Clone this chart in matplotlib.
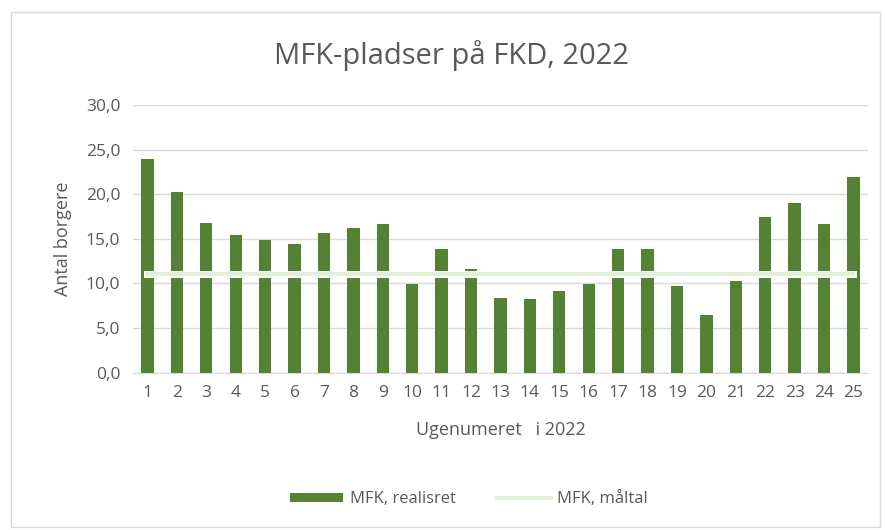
import matplotlib.pyplot as plt
from matplotlib.patches import Rectangle
import matplotlib.patheffects as pe

plt.rcParams['font.family'] = ['Open Sans', 'DejaVu Sans']

uger = [str(i) for i in range(1, 26)]
realiseret = [23.9, 20.2, 16.8, 15.4, 14.9, 14.4, 15.6, 16.2, 16.6, 9.9,
              13.9, 11.6, 8.4, 8.2, 9.1, 9.9, 13.9, 13.9, 9.7, 6.4,
              10.3, 17.4, 19.0, 16.6, 21.9]
maaltal = [11.0] * 25

grey = '#595959'
fig = plt.figure(figsize=(8.85, 5.3), dpi=100)
ax = fig.add_axes([0.150, 0.297, 0.831, 0.505])

x = range(len(uger))
bars = ax.bar(x, realiseret, width=0.42, color='#548235', label='MFK, realisret', zorder=2)
line, = ax.plot(x, maaltal, color='#E2EFDA', lw=3, label='MFK, måltal', zorder=3,
                path_effects=[pe.Stroke(linewidth=5, foreground='white'), pe.Normal()])

ax.set_ylim(0, 30)
ax.set_xlim(-0.5, len(uger) - 0.5)
ax.set_yticks(range(0, 31, 5))
ax.set_yticklabels([f'{v},0' for v in range(0, 31, 5)])
ax.set_xticks(list(x))
ax.set_xticklabels(uger)
ax.tick_params(length=0, labelsize=12.5, colors=grey, pad=9)
ax.grid(axis='y', color='#D9D9D9', lw=1, zorder=0)
for s in ax.spines.values():
    s.set_visible(False)
ax.spines['bottom'].set_visible(True)
ax.spines['bottom'].set_color('#D9D9D9')

fig.text(0.51, 0.895, 'MFK-pladser på FKD, 2022', fontsize=21, color=grey,
         ha='center', va='center')
ax.set_xlabel('Ugenumeret   i 2022', fontsize=13, color=grey, labelpad=14)
ax.set_ylabel('Antal borgere', fontsize=13, color=grey, labelpad=10)

ax.legend([bars, line], ['MFK, realisret', 'MFK, måltal'], loc='center',
          bbox_to_anchor=(0.53, 0.058), bbox_transform=fig.transFigure, ncol=2,
          frameon=False, fontsize=12, labelcolor=grey, handlelength=3.2,
          handleheight=0.5, columnspacing=2.5, handletextpad=0.4)

fig.patches.append(Rectangle((0.012, 0.006), 0.982, 0.972, transform=fig.transFigure,
                             fill=False, edgecolor='#D9D9D9', lw=1))

fig.savefig('out.png', dpi=100)
